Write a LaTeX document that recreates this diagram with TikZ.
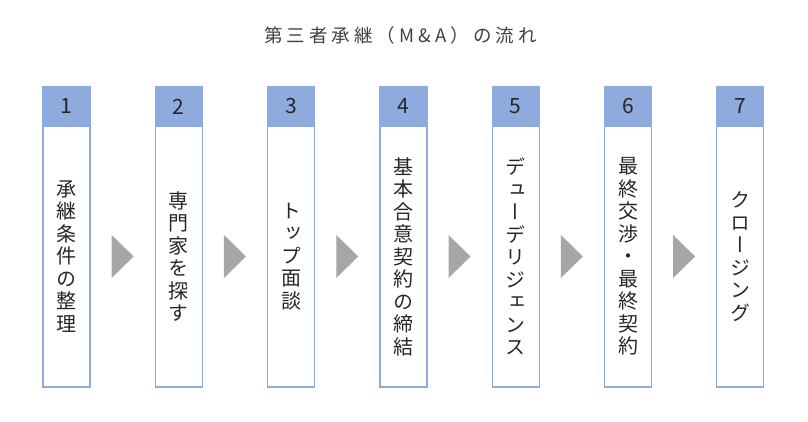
\documentclass[tikz,border=0pt]{standalone}
\usepackage{fontspec}
\setmainfont{Noto Sans CJK JP}
\newfontfamily\tatefont[RawFeature=+vert]{Noto Sans CJK JP}
\newfontfamily\titlefont[LetterSpace=22]{Noto Sans CJK JP}
\usepackage{tikz}
\usetikzlibrary{positioning,calc}

\definecolor{headblue}{HTML}{8FAADC}
\definecolor{arrowgray}{HTML}{A6A6A6}
\definecolor{titlegray}{HTML}{404040}
\definecolor{textdark}{HTML}{262626}

\tikzset{
  head/.style={draw=headblue, fill=headblue, line width=1.2pt, outer sep=0pt,
    inner sep=0pt, minimum width=47pt, minimum height=39pt,
    font=\fontsize{21}{24}\selectfont, text=textdark},
  body/.style={draw=headblue, line width=1.2pt, outer sep=0pt, inner sep=0pt,
    minimum width=47pt, minimum height=261pt, align=center,
    font=\tatefont\fontsize{20}{22.5}\selectfont, text=textdark},
  tri/.style={fill=arrowgray}
}

\begin{document}
\begin{tikzpicture}[x=1pt, y=-1pt, node distance = 112.3pt]
\useasboundingbox (0,0) rectangle (808,422);

\node[font=\titlefont\fontsize{18.5}{20}\selectfont, text=titlegray] (title) at (400.5,35) {第三者承継（M\&A）の流れ};

% step headers
\node[head] (h1) at (66.5,106.5) {1};
\node[head] (h2) [right of = h1] {2};
\node[head] (h3) [right of = h2] {3};
\node[head] (h4) [right of = h3] {4};
\node[head] (h5) [right of = h4] {5};
\node[head] (h6) [right of = h5] {6};
\node[head] (h7) [right of = h6] {7};

% step bodies
\node[body] (b1) [below=0pt of h1] {承\\継\\条\\件\\の\\整\\理};
\node[body] (b2) [below=0pt of h2] {専\\門\\家\\を\\探\\す};
\node[body] (b3) [below=0pt of h3] {ト\\ッ\\プ\\面\\談};
\node[body] (b4) [below=0pt of h4] {基\\本\\合\\意\\契\\約\\の\\締\\結};
\node[body] (b5) [below=0pt of h5] {デ\\ュ\\ー\\デ\\リ\\ジ\\ェ\\ン\\ス};
\node[body] (b6) [below=0pt of h6] {最\\終\\交\\渉\\・\\最\\終\\契\\約};
\node[body] (b7) [below=0pt of h7] {ク\\ロ\\ー\\ジ\\ン\\グ};

% arrows between steps
\coordinate (m1) at ($(b1.east)!0.5!(b2.west)$);
\coordinate (m2) at ($(b2.east)!0.5!(b3.west)$);
\coordinate (m3) at ($(b3.east)!0.5!(b4.west)$);
\coordinate (m4) at ($(b4.east)!0.5!(b5.west)$);
\coordinate (m5) at ($(b5.east)!0.5!(b6.west)$);
\coordinate (m6) at ($(b6.east)!0.5!(b7.west)$);
\fill[tri] (m1) +(-11,-21.5) -- +(11,0) -- +(-11,21.5) -- cycle;
\fill[tri] (m2) +(-11,-21.5) -- +(11,0) -- +(-11,21.5) -- cycle;
\fill[tri] (m3) +(-11,-21.5) -- +(11,0) -- +(-11,21.5) -- cycle;
\fill[tri] (m4) +(-11,-21.5) -- +(11,0) -- +(-11,21.5) -- cycle;
\fill[tri] (m5) +(-11,-21.5) -- +(11,0) -- +(-11,21.5) -- cycle;
\fill[tri] (m6) +(-11,-21.5) -- +(11,0) -- +(-11,21.5) -- cycle;
\end{tikzpicture}
\end{document}
